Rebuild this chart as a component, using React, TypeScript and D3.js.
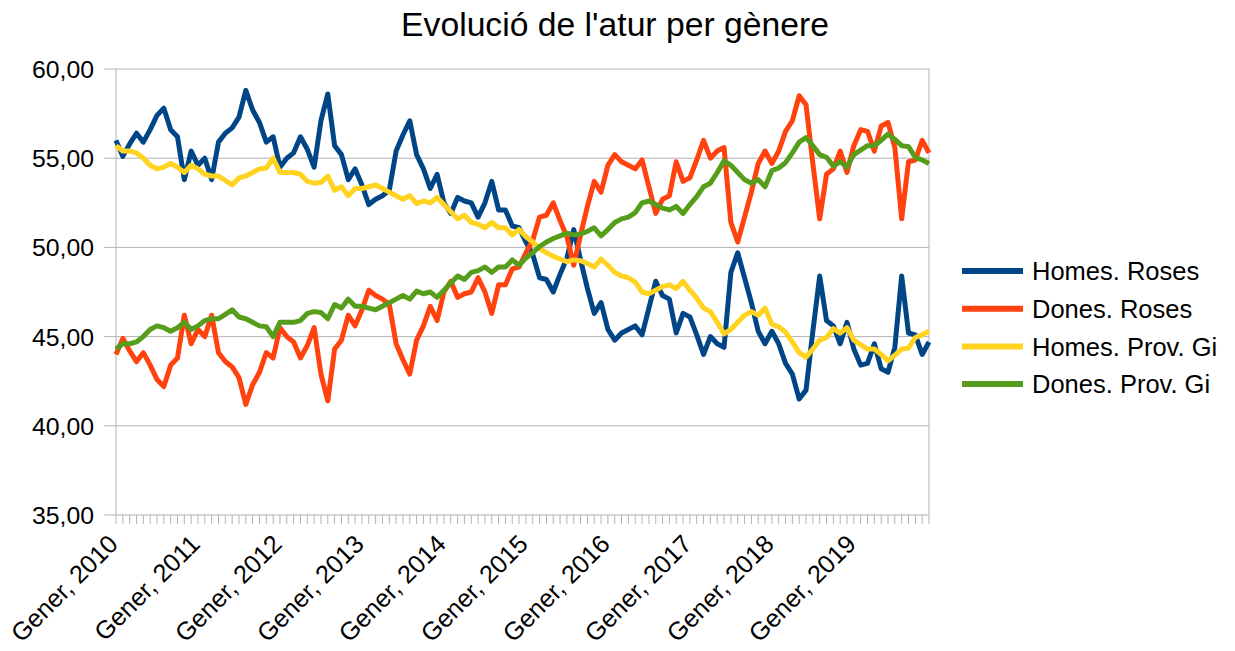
import React from "react";
import * as d3 from "d3";

// monthly share (%) of unemployment by gender, gener 2010 .. desembre 2019
const homesRoses = [
  56.0, 55.1, 55.8, 56.4, 55.9, 56.6, 57.4, 57.8, 56.6, 56.2, 53.8, 55.4,
  54.6, 55.0, 53.8, 55.9, 56.4, 56.7, 57.3, 58.8, 57.7, 57.0, 55.9, 56.2,
  54.5, 55.0, 55.3, 56.2, 55.5, 54.5, 57.1, 58.6, 55.7, 55.2, 53.8, 54.4,
  53.5, 52.4, 52.7, 52.9, 53.2, 55.4, 56.3, 57.1, 55.2, 54.4, 53.3, 54.1,
  52.5, 51.9, 52.8, 52.6, 52.5, 51.7, 52.5, 53.7, 52.1, 52.1, 51.2, 51.1,
  50.3, 49.6, 48.3, 48.2, 47.5, 48.5, 49.4, 51.0, 49.3, 47.7, 46.3, 46.9,
  45.4, 44.8, 45.2, 45.4, 45.6, 45.1, 46.6, 48.1, 47.3, 47.1, 45.2, 46.3,
  46.1, 45.1, 44.0, 45.0, 44.6, 44.4, 48.6, 49.7, 48.3, 46.9, 45.3, 44.6,
  45.3, 44.6, 43.5, 42.9, 41.5, 42.0, 45.3, 48.4, 45.9, 45.6, 44.6, 45.8,
  44.3, 43.4, 43.5, 44.6, 43.2, 43.0, 44.4, 48.4, 45.2, 45.1, 44.0, 44.7,
];

const donesRoses = [
  44.0, 44.9, 44.2, 43.6, 44.1, 43.4, 42.6, 42.2, 43.4, 43.8, 46.2, 44.6,
  45.4, 45.0, 46.2, 44.1, 43.6, 43.3, 42.7, 41.2, 42.3, 43.0, 44.1, 43.8,
  45.5, 45.0, 44.7, 43.8, 44.5, 45.5, 42.9, 41.4, 44.3, 44.8, 46.2, 45.6,
  46.5, 47.6, 47.3, 47.1, 46.8, 44.6, 43.7, 42.9, 44.8, 45.6, 46.7, 45.9,
  47.5, 48.1, 47.2, 47.4, 47.5, 48.3, 47.5, 46.3, 47.9, 47.9, 48.8, 48.9,
  49.7, 50.4, 51.7, 51.8, 52.5, 51.5, 50.6, 49.0, 50.7, 52.3, 53.7, 53.1,
  54.6, 55.2, 54.8, 54.6, 54.4, 54.9, 53.4, 51.9, 52.7, 52.9, 54.8, 53.7,
  53.9, 54.9, 56.0, 55.0, 55.4, 55.6, 51.4, 50.3, 51.7, 53.1, 54.7, 55.4,
  54.7, 55.4, 56.5, 57.1, 58.5, 58.0, 54.7, 51.6, 54.1, 54.4, 55.4, 54.2,
  55.7, 56.6, 56.5, 55.4, 56.8, 57.0, 55.6, 51.6, 54.8, 54.9, 56.0, 55.3,
];

const homesProvGi = [
  55.7, 55.4, 55.4, 55.3, 55.0, 54.6, 54.4, 54.5, 54.7, 54.5, 54.2, 54.6,
  54.4, 54.1, 54.0, 54.0, 53.75, 53.5, 53.9, 54.0, 54.2, 54.4, 54.45, 55.0,
  54.2, 54.2, 54.2, 54.1, 53.7, 53.6, 53.65, 54.0, 53.2, 53.4, 52.9, 53.3,
  53.3, 53.4, 53.5, 53.3, 53.1, 52.9, 52.7, 52.9, 52.45, 52.6, 52.5, 52.8,
  52.4, 52.0, 51.6, 51.8, 51.4, 51.3, 51.1, 51.4, 51.1, 51.1, 50.7, 51.0,
  50.6, 50.3, 49.95, 49.7, 49.5, 49.35, 49.2, 49.3, 49.25, 49.1, 48.9, 49.35,
  49.0, 48.6, 48.4, 48.3, 48.05, 47.5, 47.4, 47.6, 47.8, 47.9, 47.7, 48.1,
  47.6, 47.15, 46.6, 46.4, 45.8, 45.15, 45.4, 45.8, 46.2, 46.4, 46.2, 46.6,
  45.7, 45.55, 45.25, 44.7, 44.1, 43.85, 44.3, 44.8, 44.95, 45.45, 45.2, 45.5,
  44.8, 44.55, 44.3, 44.3, 44.0, 43.65, 43.95, 44.3, 44.35, 44.95, 45.1, 45.3,
];

const donesProvGi = [
  44.3, 44.6, 44.6, 44.7, 45.0, 45.4, 45.6, 45.5, 45.3, 45.5, 45.8, 45.4,
  45.6, 45.9, 46.0, 46.0, 46.25, 46.5, 46.1, 46.0, 45.8, 45.6, 45.55, 45.0,
  45.8, 45.8, 45.8, 45.9, 46.3, 46.4, 46.35, 46.0, 46.8, 46.6, 47.1, 46.7,
  46.7, 46.6, 46.5, 46.7, 46.9, 47.1, 47.3, 47.1, 47.55, 47.4, 47.5, 47.2,
  47.6, 48.0, 48.4, 48.2, 48.6, 48.7, 48.9, 48.6, 48.9, 48.9, 49.3, 49.0,
  49.4, 49.7, 50.05, 50.3, 50.5, 50.65, 50.8, 50.7, 50.75, 50.9, 51.1, 50.65,
  51.0, 51.4, 51.6, 51.7, 51.95, 52.5, 52.6, 52.4, 52.2, 52.1, 52.3, 51.9,
  52.4, 52.85, 53.4, 53.6, 54.2, 54.85, 54.6, 54.2, 53.8, 53.6, 53.8, 53.4,
  54.3, 54.45, 54.75, 55.3, 55.9, 56.15, 55.7, 55.2, 55.05, 54.55, 54.8, 54.5,
  55.2, 55.45, 55.7, 55.7, 56.0, 56.35, 56.05, 55.7, 55.65, 55.05, 54.9, 54.7,
];

const years = [2010, 2011, 2012, 2013, 2014, 2015, 2016, 2017, 2018, 2019];
const yTicks = [35, 40, 45, 50, 55, 60];

const series = [
  { name: "Homes. Roses", color: "#004586", values: homesRoses },
  { name: "Dones. Roses", color: "#ff420e", values: donesRoses },
  { name: "Homes. Prov. Gi", color: "#ffd320", values: homesProvGi },
  { name: "Dones. Prov. Gi", color: "#579d1c", values: donesProvGi },
];

const W = 1235;
const H = 651;
const margin = { left: 116, right: 306, top: 69, bottom: 136 };
const FONT = "'Liberation Sans', Arial, sans-serif";

const App = () => {
  const svgRef = React.useRef<SVGSVGElement>(null);

  React.useEffect(() => {
    const n = homesRoses.length;
    const xScale = d3
      .scaleLinear()
      .domain([0, n - 1])
      .range([margin.left, W - margin.right]);
    const yScale = d3
      .scaleLinear()
      .domain([35, 60])
      .range([H - margin.bottom, margin.top]);

    const fmt = d3.formatLocale({
      decimal: ",",
      thousands: ".",
      grouping: [3],
      currency: ["", " €"],
    }).format(".2f");

    const svg = d3.select(svgRef.current);
    svg.selectAll("*").remove();

    // title
    svg
      .append("text")
      .attr("x", 615)
      .attr("y", 36)
      .attr("text-anchor", "middle")
      .attr("font-family", FONT)
      .attr("font-size", 33.7)
      .attr("fill", "#000")
      .text("Evolució de l'atur per gènere");

    // horizontal grid + y ticks
    const grid = svg.append("g");
    grid
      .selectAll("line")
      .data(yTicks)
      .enter()
      .append("line")
      .attr("x1", margin.left - 12)
      .attr("x2", W - margin.right)
      .attr("y1", (d) => yScale(d))
      .attr("y2", (d) => yScale(d))
      .attr("stroke", "#b3b3b3")
      .attr("stroke-width", 1);

    grid
      .selectAll("text")
      .data(yTicks)
      .enter()
      .append("text")
      .attr("x", 94)
      .attr("y", (d) => yScale(d))
      .attr("dy", "0.36em")
      .attr("text-anchor", "end")
      .attr("font-family", FONT)
      .attr("font-size", 24.8)
      .attr("fill", "#000")
      .text((d) => fmt(d));

    // left axis and right border
    svg
      .append("line")
      .attr("x1", margin.left)
      .attr("x2", margin.left)
      .attr("y1", yScale(60))
      .attr("y2", yScale(35))
      .attr("stroke", "#b3b3b3");
    svg
      .append("line")
      .attr("x1", W - margin.right)
      .attr("x2", W - margin.right)
      .attr("y1", yScale(60))
      .attr("y2", yScale(35))
      .attr("stroke", "#b3b3b3");

    // month ticks under the x axis
    svg
      .append("g")
      .selectAll("line")
      .data(d3.range(n))
      .enter()
      .append("line")
      .attr("x1", (d) => xScale(d))
      .attr("x2", (d) => xScale(d))
      .attr("y1", yScale(35))
      .attr("y2", yScale(35) + 9)
      .attr("stroke", "#b3b3b3");

    // year labels, rotated
    svg
      .append("g")
      .selectAll("text")
      .data(years)
      .enter()
      .append("text")
      .attr(
        "transform",
        (d, i) => `translate(${xScale(i * 12) - 9},${yScale(35) + 18}) rotate(-45)`
      )
      .attr("text-anchor", "end")
      .attr("dy", "0.7em")
      .attr("font-family", FONT)
      .attr("font-size", 25.2)
      .attr("fill", "#000")
      .text((d) => `Gener, ${d}`);

    // lines
    const line = d3
      .line<number>()
      .x((d, i) => xScale(i))
      .y((d) => yScale(d));

    svg
      .append("g")
      .selectAll("path")
      .data(series)
      .enter()
      .append("path")
      .attr("fill", "none")
      .attr("stroke", (d) => d.color)
      .attr("stroke-width", 5)
      .attr("stroke-linejoin", "round")
      .attr("d", (d) => line(d.values));

    // legend
    const legend = svg
      .append("g")
      .selectAll("g")
      .data(series)
      .enter()
      .append("g")
      .attr("transform", (d, i) => `translate(962,${271 + i * 37.7})`);
    legend
      .append("line")
      .attr("x1", 0)
      .attr("x2", 61)
      .attr("stroke", (d) => d.color)
      .attr("stroke-width", 6);
    legend
      .append("text")
      .attr("x", 70)
      .attr("dy", "0.36em")
      .attr("font-family", FONT)
      .attr("font-size", 25.5)
      .attr("fill", "#000")
      .text((d) => d.name);
  }, []);

  return (
    <svg
      ref={svgRef}
      width={W}
      height={H}
      style={{ position: "absolute", left: 0, top: 0, background: "#fff" }}
    />
  );
};

export default App;
